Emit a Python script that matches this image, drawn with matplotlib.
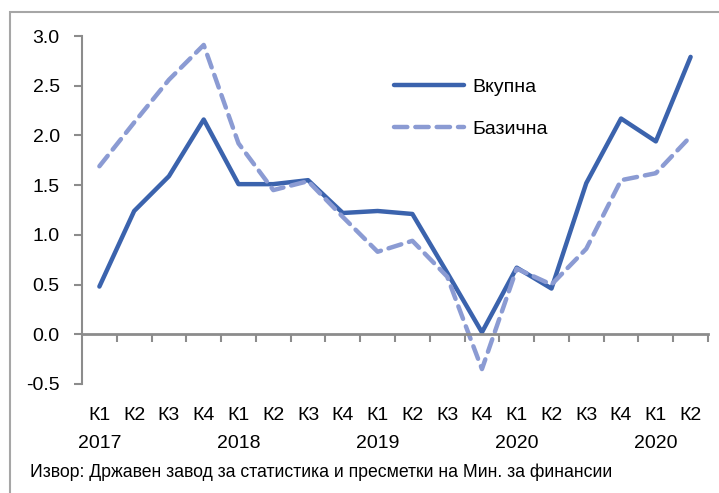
import matplotlib.pyplot as plt
from matplotlib.patches import Rectangle
from matplotlib.transforms import blended_transform_factory

quarters = ["К1", "К2", "К3", "К4"] * 4 + ["К1", "К2"]
years = ["2017", "", "", "", "2018", "", "", "", "2019", "", "", "",
         "2020", "", "", "", "2020", ""]
vkupna = [0.48, 1.24, 1.59, 2.16, 1.51, 1.51, 1.55, 1.22, 1.24, 1.21,
          0.62, 0.02, 0.67, 0.46, 1.52, 2.17, 1.94, 2.79]
bazicna = [1.69, 2.13, 2.56, 2.91, 1.92, 1.45, 1.54, 1.18, 0.83, 0.94,
           0.58, -0.35, 0.66, 0.50, 0.86, 1.55, 1.62, 1.99]

plt.rcParams["font.family"] = ["Liberation Sans", "DejaVu Sans"]
fs = 14

fig = plt.figure(figsize=(7.19, 4.93), dpi=100)
ax = fig.add_axes([82 / 719, 1 - 384 / 493, (708 - 82) / 719, (384 - 36) / 493])

# grey frame around the whole chart
fig.patches.append(Rectangle((10 / 719, -0.05), 1.1, 1 - 12 / 493 + 0.05,
                             transform=fig.transFigure, fill=False,
                             edgecolor="#a6a6a6", lw=1.5))

x = list(range(len(quarters)))
ax.plot(x, vkupna, color="#3b63ad", lw=3.2, solid_capstyle="round",
        label="Вкупна")
ax.plot(x, bazicna, color="#8b9bd3", lw=3.2, dashes=(3, 1.8),
        dash_capstyle="round", label="Базична")

ax.set_xlim(-0.5, len(quarters) - 0.5)
ax.set_ylim(-0.5, 3.0)
ax.set_yticks([-0.5, 0, 0.5, 1.0, 1.5, 2.0, 2.5, 3.0])
ax.set_yticklabels(["-0.5", "0.0", "0.5", "1.0", "1.5", "2.0", "2.5", "3.0"],
                   fontsize=fs)

for s in ["top", "right"]:
    ax.spines[s].set_visible(False)
ax.spines["left"].set_color("#8c8c8c")
ax.spines["left"].set_linewidth(1.5)
ax.spines["bottom"].set_position(("data", 0))
ax.spines["bottom"].set_color("#8c8c8c")
ax.spines["bottom"].set_linewidth(2)
ax.tick_params(axis="y", colors="#8c8c8c", labelcolor="black", length=6,
               width=1.5, pad=10)
ax.set_xticks([i + 0.5 for i in x])
ax.tick_params(axis="x", colors="#8c8c8c", length=6, width=1.5,
               labelbottom=False)

trans = blended_transform_factory(ax.transData, ax.transAxes)
for i, (q, y) in enumerate(zip(quarters, years)):
    ax.text(i, -0.09, q, transform=trans, ha="center", va="center",
            fontsize=fs)
    if y:
        ax.text(i, -0.17, y, transform=trans, ha="center", va="center",
                fontsize=fs)

ax.legend(loc="upper left", bbox_to_anchor=(0.471, 0.928), frameon=False,
          fontsize=fs, handlelength=3.6, labelspacing=1.25, handletextpad=0.4,
          borderpad=0.4)

fig.text(30 / 719, 1 - 472 / 493,
         "Извор: Државен завод за статистика и пресметки на Мин. за финансии",
         fontsize=12.7, va="center", ha="left")

fig.savefig("out.png", dpi=100)
